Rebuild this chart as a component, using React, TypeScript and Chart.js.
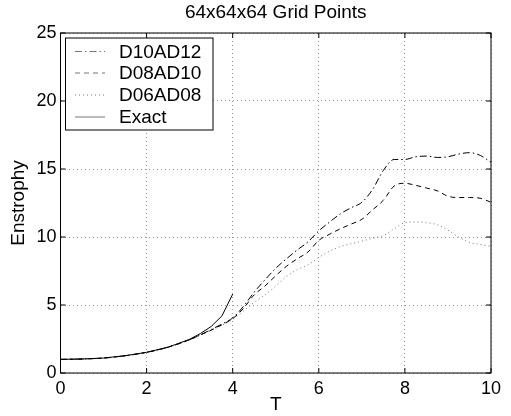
import React, { useEffect, useRef } from "react";
import { Chart, registerables } from "chart.js";

Chart.register(...registerables);

const TITLE = "64x64x64 Grid Points";
const X_LABEL = "T";
const Y_LABEL = "Enstrophy";

const T = [0, 0.5, 1, 1.5, 2, 2.5, 3, 3.25, 3.5, 3.75, 4, 4.25, 4.5, 4.75, 5, 5.25, 5.5, 5.75, 6, 6.25, 6.5, 6.75, 7, 7.25, 7.5, 7.75, 8, 8.25, 8.5, 8.75, 9, 9.25, 9.5, 9.75, 10];

const D10AD12 = [1.0, 1.03, 1.1, 1.27, 1.52, 1.9, 2.45, 2.8, 3.2, 3.6, 4.05, 4.9, 5.95, 6.85, 7.7, 8.4, 9.05, 9.65, 10.45, 11.1, 11.7, 12.15, 12.55, 13.5, 14.9, 15.7, 15.7, 15.9, 15.95, 15.85, 15.9, 16.1, 16.2, 16.0, 15.5];
const D08AD10 = [1.0, 1.03, 1.1, 1.27, 1.52, 1.9, 2.45, 2.8, 3.15, 3.55, 4.0, 4.75, 5.75, 6.4, 7.15, 7.85, 8.4, 8.9, 9.75, 10.2, 10.6, 10.95, 11.3, 12.0, 12.7, 13.75, 13.95, 13.8, 13.6, 13.4, 13.0, 12.9, 12.9, 12.85, 12.55];
const D06AD08 = [1.0, 1.03, 1.1, 1.27, 1.52, 1.9, 2.45, 2.8, 3.15, 3.5, 3.95, 4.55, 5.2, 5.75, 6.4, 7.1, 7.6, 7.95, 8.5, 8.95, 9.3, 9.5, 9.7, 9.9, 10.1, 10.6, 11.05, 11.1, 11.05, 10.9, 10.5, 10.0, 9.6, 9.45, 9.3];

const T_EXACT = [0, 0.5, 1, 1.5, 2, 2.5, 3, 3.25, 3.5, 3.75, 4];
const EXACT = [1.0, 1.03, 1.1, 1.27, 1.52, 1.9, 2.48, 2.9, 3.42, 4.2, 5.8];

const X_TICKS = [0, 2, 4, 6, 8, 10];
const Y_TICKS = [0, 5, 10, 15, 20, 25];

const FONT = "'Liberation Sans', Arial, Helvetica, sans-serif";

const pts = (xs: number[], ys: number[]) => xs.map((x, i) => ({ x, y: ys[i] }));

const framePlugin = {
  id: "framePlugin",
  afterDraw(chart: any) {
    const { ctx, chartArea: a, scales } = chart;
    const xs = scales.x;
    const ys = scales.y;
    ctx.save();
    ctx.strokeStyle = "#000";
    ctx.lineWidth = 1;
    ctx.setLineDash([]);
    ctx.strokeRect(a.left, a.top, a.right - a.left, a.bottom - a.top);
    const tl = 5;
    ctx.beginPath();
    X_TICKS.forEach((v) => {
      const px = xs.getPixelForValue(v);
      ctx.moveTo(px, a.bottom);
      ctx.lineTo(px, a.bottom - tl);
      ctx.moveTo(px, a.top);
      ctx.lineTo(px, a.top + tl);
    });
    Y_TICKS.forEach((v) => {
      const py = ys.getPixelForValue(v);
      ctx.moveTo(a.left, py);
      ctx.lineTo(a.left + tl, py);
      ctx.moveTo(a.right, py);
      ctx.lineTo(a.right - tl, py);
    });
    ctx.stroke();

    ctx.fillStyle = "#000";
    ctx.font = `19px ${FONT}`;
    ctx.textAlign = "center";
    ctx.textBaseline = "middle";
    ctx.fillText(TITLE, (a.left + a.right) / 2, 13);
    ctx.font = `19px ${FONT}`;
    ctx.fillText(X_LABEL, (a.left + a.right) / 2, 405);
    ctx.save();
    ctx.translate(19, (a.top + a.bottom) / 2);
    ctx.rotate(-Math.PI / 2);
    ctx.fillText(Y_LABEL, 0, 0);
    ctx.restore();

    const bx = 65.5, by = 38, bw = 147.5, bh = 92;
    ctx.fillStyle = "#fff";
    ctx.fillRect(bx, by, bw, bh);
    ctx.strokeStyle = "#000";
    ctx.strokeRect(bx, by, bw, bh);
    const rows = [51.5, 73, 95, 117];
    chart.data.datasets.forEach((ds: any, i: number) => {
      const y = rows[i];
      ctx.strokeStyle = "#777";
      ctx.lineWidth = 1;
      ctx.setLineDash(ds.borderDash || []);
      ctx.beginPath();
      ctx.moveTo(75, y);
      ctx.lineTo(105, y);
      ctx.stroke();
      ctx.setLineDash([]);
      ctx.fillStyle = "#000";
      ctx.font = `19px ${FONT}`;
      ctx.textAlign = "left";
      ctx.textBaseline = "middle";
      ctx.fillText(ds.label, 119, y + 1);
    });
    ctx.restore();
  },
};

export default function App() {
  const ref = useRef<HTMLCanvasElement>(null);
  useEffect(() => {
    document.body.style.margin = "0";
    const chart = new Chart(ref.current as HTMLCanvasElement, {
      type: "line",
      data: {
        datasets: [
          { label: "D10AD12", data: pts(T, D10AD12), borderColor: "#000", borderWidth: 1, borderDash: [7, 3, 1.5, 3], cubicInterpolationMode: "monotone" },
          { label: "D08AD10", data: pts(T, D08AD10), borderColor: "#000", borderWidth: 1, borderDash: [5, 4], cubicInterpolationMode: "monotone" },
          { label: "D06AD08", data: pts(T, D06AD08), borderColor: "#777", borderWidth: 1, borderDash: [1, 3], cubicInterpolationMode: "monotone" },
          { label: "Exact", data: pts(T_EXACT, EXACT), borderColor: "#000", borderWidth: 1, tension: 0 },
        ] as any,
      },
      options: {
        animation: false,
        responsive: false,
        events: [],
        layout: { padding: { top: 33, right: 20, left: 0, bottom: 0 } },
        elements: { point: { radius: 0 } },
        plugins: { legend: { display: false }, title: { display: false }, tooltip: { enabled: false } },
        scales: {
          x: {
            type: "linear",
            min: 0,
            max: 10,
            afterBuildTicks: (s: any) => { s.ticks = X_TICKS.map((v) => ({ value: v })); },
            afterFit: (s: any) => { s.height = 43; },
            ticks: { color: "#000", font: { family: FONT, size: 18 }, padding: 5, maxRotation: 0 },
            grid: { color: "#999", drawTicks: false, lineWidth: 1 },
            border: { display: false, dash: [1, 3] },
          },
          y: {
            type: "linear",
            min: 0,
            max: 25,
            afterBuildTicks: (s: any) => { s.ticks = Y_TICKS.map((v) => ({ value: v })); },
            afterFit: (s: any) => { s.width = 60.5; },
            ticks: { color: "#000", font: { family: FONT, size: 18 }, padding: 4 },
            grid: { color: "#999", drawTicks: false, lineWidth: 1 },
            border: { display: false, dash: [1, 3] },
          },
        },
      },
      plugins: [framePlugin],
    });
    return () => chart.destroy();
  }, []);
  return <canvas ref={ref} width={511} height={416} style={{ display: "block" }} />;
}
